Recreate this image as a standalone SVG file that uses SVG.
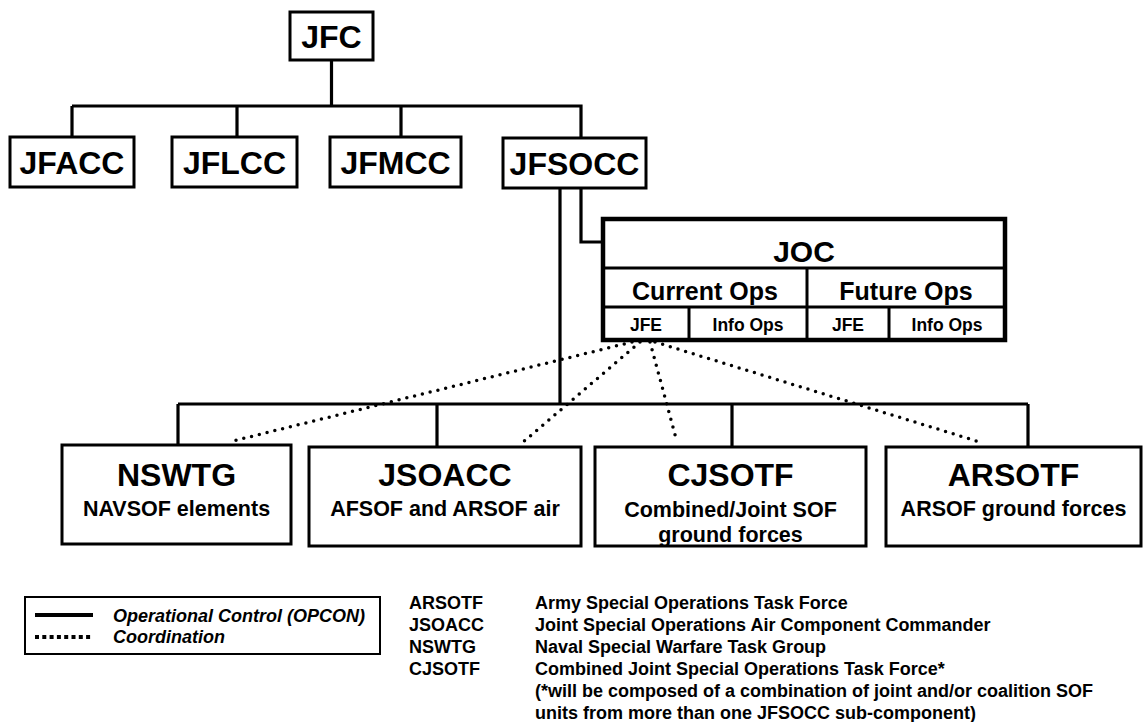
<svg xmlns="http://www.w3.org/2000/svg" width="1148" height="722" viewBox="0 0 1148 722">
<style>
text{font-family:"Liberation Sans",Arial,Helvetica,sans-serif;font-weight:bold;fill:#000}
.box{fill:#fff;stroke:#000;stroke-width:3}
.title{font-size:32px;text-anchor:middle}
.sub{font-size:21.5px;text-anchor:middle}
.solid{fill:none;stroke:#000;stroke-width:3.2}
.dot{fill:none;stroke:#000;stroke-width:3.5;stroke-linecap:round;stroke-dasharray:0 8}
.joc{font-size:25px;text-anchor:middle}
.cell{font-size:17.5px;text-anchor:middle}
.key{font-size:18px}
.leg{font-size:18px;font-style:italic}
</style>
<rect width="1148" height="722" fill="#fff"/>
<g id="connectors">
<path class="solid" d="M331.5 60V106M72 106H581V138M72 106V137M237 106V137M401 106V137"/>
<path class="solid" d="M560 188V404M581 188V242H603"/>
<path class="solid" d="M178 404H1028M178 404V445M437 404V447M732 404V447M1028 404V447"/>
<path class="dot" d="M632 342L233 441"/>
<path class="dot" d="M640 342L522 443"/>
<path class="dot" d="M650 342L677 442"/>
<path class="dot" d="M655 342L983 443"/>
</g>
<g id="JFC"><rect class="box" x="290" y="12" width="83" height="48"/><text class="title" x="331.5" y="47.5">JFC</text></g>
<g id="JFACC"><rect class="box" x="10" y="137" width="124" height="50"/><text class="title" x="72" y="174">JFACC</text></g>
<g id="JFLCC"><rect class="box" x="172" y="137" width="125" height="50"/><text class="title" x="234.5" y="174">JFLCC</text></g>
<g id="JFMCC"><rect class="box" x="330" y="137" width="131" height="50"/><text class="title" x="395.5" y="174">JFMCC</text></g>
<g id="JFSOCC"><rect class="box" x="503" y="138" width="143" height="50"/><text class="title" x="574.5" y="175">JFSOCC</text></g>
<g id="JOC">
<rect x="603" y="219" width="402" height="121" fill="#fff" stroke="#000" stroke-width="4.5"/>
<path d="M603 268H1005M603 307H1005M807 268V340M689 307V340M889 307V340" stroke="#000" stroke-width="3" fill="none"/>
<text x="804" y="262" style="font-size:30px;text-anchor:middle">JOC</text>
<text class="joc" x="705" y="300">Current Ops</text>
<text class="joc" x="906" y="300">Future Ops</text>
<text class="cell" x="646" y="331">JFE</text>
<text class="cell" x="748" y="331">Info Ops</text>
<text class="cell" x="848" y="331">JFE</text>
<text class="cell" x="947" y="331">Info Ops</text>
</g>
<g id="NSWTG"><rect class="box" x="62" y="445" width="229" height="99"/><text class="title" x="176.5" y="486">NSWTG</text><text class="sub" x="176.5" y="516">NAVSOF elements</text></g>
<g id="JSOACC"><rect class="box" x="309" y="447" width="272" height="99"/><text class="title" x="445" y="486">JSOACC</text><text class="sub" x="445" y="516">AFSOF and ARSOF air</text></g>
<g id="CJSOTF"><rect class="box" x="595" y="447" width="271" height="99"/><text class="title" x="730.5" y="486">CJSOTF</text><text class="sub" x="730.5" y="517">Combined/Joint SOF</text><text class="sub" x="730.5" y="542">ground forces</text></g>
<g id="ARSOTF"><rect class="box" x="886" y="447" width="255" height="99"/><text class="title" x="1013.5" y="486">ARSOTF</text><text class="sub" x="1013.5" y="516">ARSOF ground forces</text></g>
<g id="legend">
<rect x="25" y="597" width="355" height="57" fill="#fff" stroke="#000" stroke-width="2"/>
<path d="M35 615H93" stroke="#000" stroke-width="4"/>
<path d="M35 637H93" stroke="#000" stroke-width="4" stroke-dasharray="4 3.3"/>
<text class="leg" x="113" y="622">Operational Control (OPCON)</text>
<text class="leg" x="113" y="643">Coordination</text>
</g>
<g id="key">
<text class="key" x="409" y="609">ARSOTF</text>
<text class="key" x="409" y="631">JSOACC</text>
<text class="key" x="409" y="653">NSWTG</text>
<text class="key" x="409" y="675">CJSOTF</text>
<text class="key" x="535" y="609">Army Special Operations Task Force</text>
<text class="key" x="535" y="631">Joint Special Operations Air Component Commander</text>
<text class="key" x="535" y="653">Naval Special Warfare Task Group</text>
<text class="key" x="535" y="675">Combined Joint Special Operations Task Force*</text>
<text class="key" x="535" y="697">(*will be composed of a combination of joint and/or coalition SOF</text>
<text class="key" x="535" y="719">units from more than one JFSOCC sub-component)</text>
</g>
</svg>
